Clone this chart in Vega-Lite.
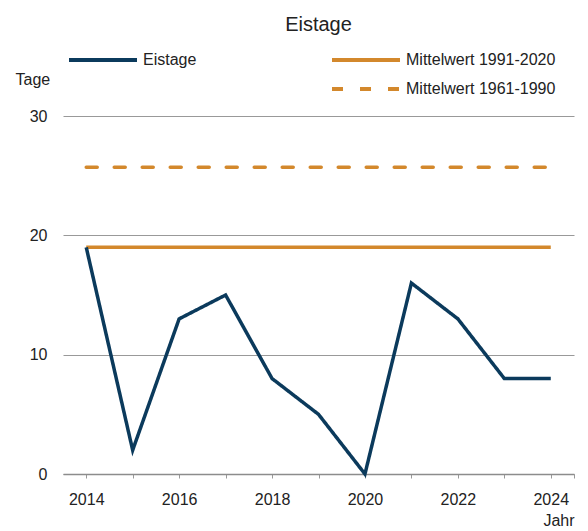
{
  "$schema": "https://vega.github.io/schema/vega-lite/v6.json",
  "autosize": "none",
  "width": 511,
  "height": 358,
  "padding": {"left": 63, "top": 116, "right": 14, "bottom": 57},
  "background": "white",
  "config": {
    "font": "Liberation Sans",
    "view": {"stroke": null},
    "axis": {"labelFont": "Liberation Sans", "titleFont": "Liberation Sans", "labelColor": "#222", "titleColor": "#222", "labelFontSize": 16, "titleFontSize": 16, "titleFontWeight": "normal"},
    "legend": {"labelFont": "Liberation Sans", "labelFontSize": 16, "labelColor": "#222"}
  },
  "title": {"text": "Eistage", "fontSize": 20, "fontWeight": "normal", "color": "#222", "anchor": "middle", "frame": "group", "offset": -11},
  "datasets": {
    "eistage": [
      {"Jahr": 2014, "Tage": 19, "series": "Eistage"},
      {"Jahr": 2015, "Tage": 2, "series": "Eistage"},
      {"Jahr": 2016, "Tage": 13, "series": "Eistage"},
      {"Jahr": 2017, "Tage": 15, "series": "Eistage"},
      {"Jahr": 2018, "Tage": 8, "series": "Eistage"},
      {"Jahr": 2019, "Tage": 5, "series": "Eistage"},
      {"Jahr": 2020, "Tage": 0, "series": "Eistage"},
      {"Jahr": 2021, "Tage": 16, "series": "Eistage"},
      {"Jahr": 2022, "Tage": 13, "series": "Eistage"},
      {"Jahr": 2023, "Tage": 8, "series": "Eistage"},
      {"Jahr": 2024, "Tage": 8, "series": "Eistage"}
    ],
    "m1991": [
      {"Jahr": 2014, "Tage": 19, "series": "Mittelwert 1991-2020"},
      {"Jahr": 2024, "Tage": 19, "series": "Mittelwert 1991-2020"}
    ],
    "m1961": [
      {"Jahr": 2014, "Tage": 25.7, "series": "Mittelwert 1961-1990"},
      {"Jahr": 2024, "Tage": 25.7, "series": "Mittelwert 1961-1990"}
    ]
  },
  "encoding": {
    "x": {
      "field": "Jahr", "type": "quantitative",
      "scale": {"domain": [2013.5, 2024.5], "nice": false, "zero": false},
      "axis": {
        "values": [2014, 2015, 2016, 2017, 2018, 2019, 2020, 2021, 2022, 2023, 2024, 2024.5],
        "format": "d",
        "labelExpr": "datum.value % 2 == 0 ? datum.label : ''",
        "labelOverlap": false, "labelFlush": false,
        "grid": false, "domainColor": "#8c8c8c", "domainWidth": 1.5, "tickColor": "#999", "tickSize": 4, "tickWidth": 1,
        "labelPadding": 13,
        "title": "Jahr", "titleAlign": "right", "titleBaseline": "alphabetic", "titleX": 511, "titleY": 51
      }
    },
    "y": {
      "field": "Tage", "type": "quantitative",
      "scale": {"domain": [0, 30], "nice": false},
      "axis": {
        "values": [0, 10, 20, 30],
        "domain": false, "ticks": false, "tickSize": 0, "labelPadding": 16,
        "gridColor": "#999", "gridWidth": 1,
        "title": "Tage", "titleAngle": 0, "titleAlign": "left", "titleBaseline": "alphabetic", "titleX": -48, "titleY": -32
      }
    }
  },
  "layer": [
    {
      "data": {"name": "m1961"},
      "mark": {"type": "line", "color": "#d3882c", "strokeWidth": 3.5, "strokeCap": "round"},
      "encoding": {
        "strokeDash": {
          "field": "series", "type": "nominal",
          "scale": {"domain": ["Mittelwert 1961-1990"], "range": [[11, 17]]},
          "legend": {"title": null, "orient": "none", "legendX": 267, "legendY": -63, "symbolType": "stroke", "symbolSize": 4624, "symbolStrokeWidth": 4, "symbolStrokeColor": "#d3882c", "labelOffset": 4, "padding": 0}
        }
      }
    },
    {
      "data": {"name": "m1991"},
      "mark": {"type": "line", "color": "#d3882c", "strokeWidth": 3.5},
      "encoding": {
        "strokeDash": {
          "field": "series", "type": "nominal",
          "scale": {"domain": ["Mittelwert 1991-2020"], "range": [[1, 0]]},
          "legend": {"title": null, "orient": "none", "legendX": 267, "legendY": -92, "symbolType": "stroke", "symbolSize": 4624, "symbolStrokeWidth": 4, "symbolStrokeColor": "#d3882c", "labelOffset": 4, "padding": 0}
        }
      }
    },
    {
      "data": {"name": "eistage"},
      "mark": {"type": "line", "color": "#0b3a5c", "strokeWidth": 3.5, "strokeJoin": "miter"},
      "encoding": {
        "strokeDash": {
          "field": "series", "type": "nominal",
          "scale": {"domain": ["Eistage"], "range": [[1, 0]]},
          "legend": {"title": null, "orient": "none", "legendX": 4, "legendY": -92, "symbolType": "stroke", "symbolSize": 4624, "symbolStrokeWidth": 4, "symbolStrokeColor": "#0b3a5c", "labelOffset": 4, "padding": 0}
        }
      }
    }
  ],
  "resolve": {"scale": {"strokeDash": "independent"}, "legend": {"strokeDash": "independent"}}
}
